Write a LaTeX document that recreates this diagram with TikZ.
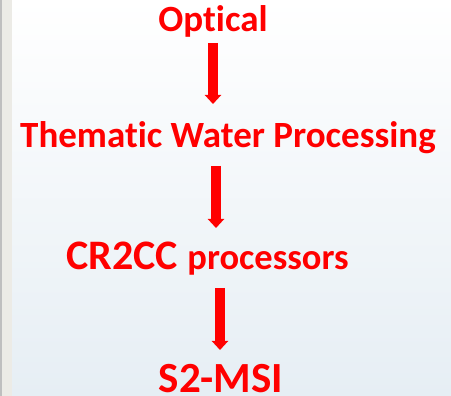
\documentclass[tikz,border=0pt]{standalone}
\usepackage{fontspec}
\setmainfont{Carlito}[Ligatures=NoCommon]
\usepackage{tikz}
\usetikzlibrary{arrows.meta,positioning,calc}
\definecolor{flowred}{RGB}{255,0,0}
\definecolor{waterbg}{RGB}{230,238,244}
\definecolor{barbg}{RGB}{236,235,230}

\begin{document}
\begin{tikzpicture}[x=1pt,y=-1pt,
    procstep/.style={text=flowred, font=\bfseries, inner sep=0pt, anchor=base},
    flowarrow/.style={draw=flowred, line width=10pt, -{Triangle[width=16pt,length=9pt]}}]
    % background
    \useasboundingbox (0,0) rectangle (451,396);
    \fill[top color=white, bottom color=waterbg] (12,0) rectangle (451,396);
    \fill[barbg] (0,0) rectangle (12,396);
    \draw[black!25, line width=1.5pt] (1,0) -- (1,396);
    % steps
    \node[procstep] (optical) at (213,32) {\fontsize{37}{40}\selectfont Optical};
    \node[procstep] (thematic) at (228,148) {\fontsize{37}{40}\selectfont Thematic Water Processing};
    \node[procstep] (crcc) at (207.5,270) {\fontsize{42}{44}\selectfont CR2CC {\fontsize{36.5}{40}\selectfont processors}};
    \node[procstep] (msi) at (221,392) {\fontsize{43}{44}\selectfont S2-MSI};
    % arrows
    \draw[flowarrow] ([yshift=-11pt]optical.base) -- ([yshift=44pt]thematic.base -| optical);
    \draw[flowarrow] ([xshift=3pt,yshift=-18pt]thematic.base -| optical) -- ([xshift=3pt,yshift=42pt]crcc.base -| optical);
    \draw[flowarrow] ([xshift=-1pt,yshift=-18pt]crcc.base -| msi) -- ([xshift=-1pt,yshift=42pt]msi.base);
\end{tikzpicture}
\end{document}
